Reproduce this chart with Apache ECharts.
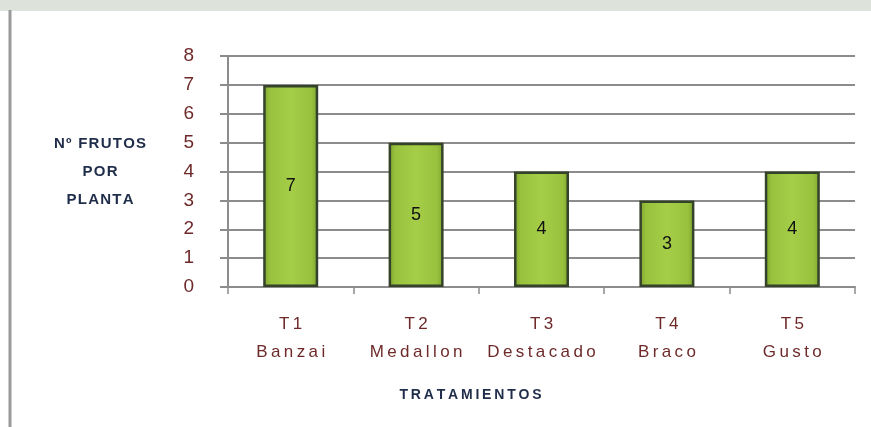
<!DOCTYPE html>
<html>
<head>
<meta charset="utf-8">
<script src="https://cdn.jsdelivr.net/npm/echarts@6/dist/echarts.min.js"></script>
<style>
  html, body { margin: 0; padding: 0; background: #fff; }
  #chart { width: 871px; height: 427px; }
</style>
</head>
<body>
<div id="chart"></div>
<script>
// datos del grafico
const codigos = ['T1', 'T2', 'T3', 'T4', 'T5'];
const variedades = ['Banzai', 'Medallon', 'Destacado', 'Braco', 'Gusto'];
const frutos = [7, 5, 4, 3, 4];
const yTicks = [0, 1, 2, 3, 4, 5, 6, 7, 8];

const FONT = "'Liberation Sans', Arial, sans-serif";
const spread = (s, sep) => s.split('').join(sep);

const chart = echarts.init(document.getElementById('chart'));

const option = {
  backgroundColor: '#fff',
  animation: false,
  grid: { left: 228, right: 16, top: 56, bottom: 140 },
  graphic: [
    // franja superior (fondo de la pagina) y borde del marco
    { type: 'rect', left: 0, top: 0, shape: { width: 871, height: 10 }, style: { fill: '#dde2da' }, silent: true },
    { type: 'line', shape: { x1: 0, y1: 10.5, x2: 871, y2: 10.5 }, style: { stroke: '#e2e2e2', lineWidth: 1 }, silent: true },
    { type: 'line', shape: { x1: 10, y1: 10, x2: 10, y2: 427 }, style: { stroke: '#9a9a9a', lineWidth: 3 }, silent: true }
  ],
  xAxis: {
    type: 'category',
    data: codigos.map((c, i) => c + '\n' + variedades[i]),
    name: spread('TRATAMIENTOS', '\u2009'),
    nameLocation: 'middle',
    nameGap: 101,
    nameTextStyle: { color: '#1f2d4a', fontFamily: FONT, fontWeight: 'bold', fontSize: 14, padding: [0, 142, 0, 0] },
    axisLine: { lineStyle: { color: '#8c8c8c', width: 2 } },
    axisTick: { show: true, interval: 0, length: 7, lineStyle: { color: '#8c8c8c', width: 1.5 } },
    axisLabel: {
      interval: 0,
      margin: 23,
      color: '#6e2a2a',
      fontFamily: FONT,
      fontSize: 17,
      lineHeight: 28,
      formatter: v => v.split('\n').map(l => spread(l, '\u2009')).join('\n')
    }
  },
  yAxis: {
    type: 'value',
    min: 0,
    max: 8,
    interval: 1,
    name: [spread('Nº FRUTOS', '\u200a'), spread('POR', '\u200a'), spread('PLANTA', '\u200a')].join('\n'),
    nameLocation: 'middle',
    nameRotate: 0,
    nameGap: 128,
    nameTextStyle: {
      color: '#1f2d4a', fontFamily: FONT, fontWeight: 'bold', fontSize: 15,
      lineHeight: 28, align: 'center', verticalAlign: 'middle', padding: [0, 0, 22, 0]
    },
    axisLine: { show: true, lineStyle: { color: '#8c8c8c', width: 2 } },
    axisTick: { show: true, length: 8, lineStyle: { color: '#8c8c8c', width: 2 } },
    splitLine: { lineStyle: { color: '#8c8c8c', width: 2 } },
    axisLabel: {
      margin: 34,
      color: '#6e2a2a',
      fontFamily: FONT,
      fontSize: 19,
      formatter: v => (yTicks.includes(v) ? String(v) : '')
    }
  },
  series: [{
    type: 'bar',
    data: frutos,
    barWidth: 55,
    itemStyle: {
      color: new echarts.graphic.LinearGradient(0, 0, 1, 0, [
        { offset: 0, color: '#7ea02e' },
        { offset: 0.12, color: '#98c23d' },
        { offset: 0.5, color: '#a5cd48' },
        { offset: 0.88, color: '#98c23d' },
        { offset: 1, color: '#7ea02e' }
      ]),
      borderColor: '#34432a',
      borderWidth: 2.5
    },
    label: {
      show: true,
      position: 'inside',
      color: '#111',
      fontFamily: FONT,
      fontSize: 18
    }
  }]
};

chart.setOption(option);
</script>
</body>
</html>
